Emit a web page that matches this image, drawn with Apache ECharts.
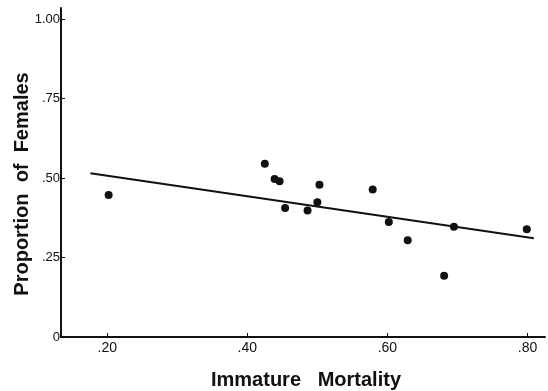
<!DOCTYPE html>
<html><head><meta charset="utf-8">
<script src="https://cdn.jsdelivr.net/npm/echarts@6/dist/echarts.min.js"></script>
<style>html,body{margin:0;padding:0;background:#fff}#c{width:548px;height:391px}</style>
</head><body><div id="c"></div>
<script>
// Data
const mortality = [0.202, 0.425, 0.439, 0.446, 0.454, 0.486, 0.503, 0.500, 0.579, 0.602, 0.629, 0.681, 0.695, 0.799];
const femaleProportion = [0.447, 0.545, 0.497, 0.490, 0.406, 0.398, 0.479, 0.424, 0.464, 0.362, 0.304, 0.193, 0.347, 0.339];
const fitX = [0.176, 0.809];
const fitY = [0.515, 0.311];
const xTicks = [0.2, 0.4, 0.6, 0.8];
const xTickLabels = ['.20', '.40', '.60', '.80'];
const yTicks = [0, 0.25, 0.5, 0.75, 1.0];
const yTickLabels = ['0', '.25', '.50', '.75', '1.00'];
const xTitle = 'Immature   Mortality';
const yTitle = 'Proportion  of  Females';

const ink = '#111';
const font = 'Liberation Sans, Arial, sans-serif';
const chart = echarts.init(document.getElementById('c'), null, {renderer: 'canvas'});
chart.setOption({
  animation: false,
  grid: {left: 61, right: 3, top: 8, bottom: 54, containLabel: false},
  graphic: [
    {type: 'text', x: 306, y: 380, style: {text: xTitle, align: 'center', verticalAlign: 'middle',
      font: 'bold 20px ' + font, fill: ink}},
    {type: 'text', x: 22, y: 184, rotation: Math.PI / 2, style: {text: yTitle, align: 'center', verticalAlign: 'middle',
      font: 'bold 20px ' + font, fill: ink}}
  ],
  xAxis: {
    type: 'value', min: 0.134, max: 0.825,
    axisLine: {show: true, lineStyle: {color: ink, width: 2}},
    axisTick: {show: true, inside: true, length: 4, customValues: xTicks, lineStyle: {color: ink, width: 1}},
    axisLabel: {customValues: xTicks, formatter: v => xTickLabels[xTicks.findIndex(t => Math.abs(t - v) < 1e-6)] || '',
      fontFamily: font, fontSize: 14, color: ink, margin: 4},
    splitLine: {show: false}
  },
  yAxis: {
    type: 'value', min: 0, max: 1.035,
    axisLine: {show: true, lineStyle: {color: ink, width: 2}},
    axisTick: {show: true, inside: true, length: 4, customValues: yTicks, lineStyle: {color: ink, width: 1}},
    axisLabel: {customValues: yTicks, formatter: v => yTickLabels[yTicks.findIndex(t => Math.abs(t - v) < 1e-6)] || '',
      fontFamily: font, fontSize: 13, color: ink, margin: 1},
    splitLine: {show: false}
  },
  series: [
    {type: 'scatter', symbol: 'circle', symbolSize: 8, itemStyle: {color: ink, opacity: 1},
     data: mortality.map((x, i) => [x, femaleProportion[i]])},
    {type: 'line', symbol: 'none', lineStyle: {color: ink, width: 2},
     data: fitX.map((x, i) => [x, fitY[i]])}
  ]
});
</script></body></html>
